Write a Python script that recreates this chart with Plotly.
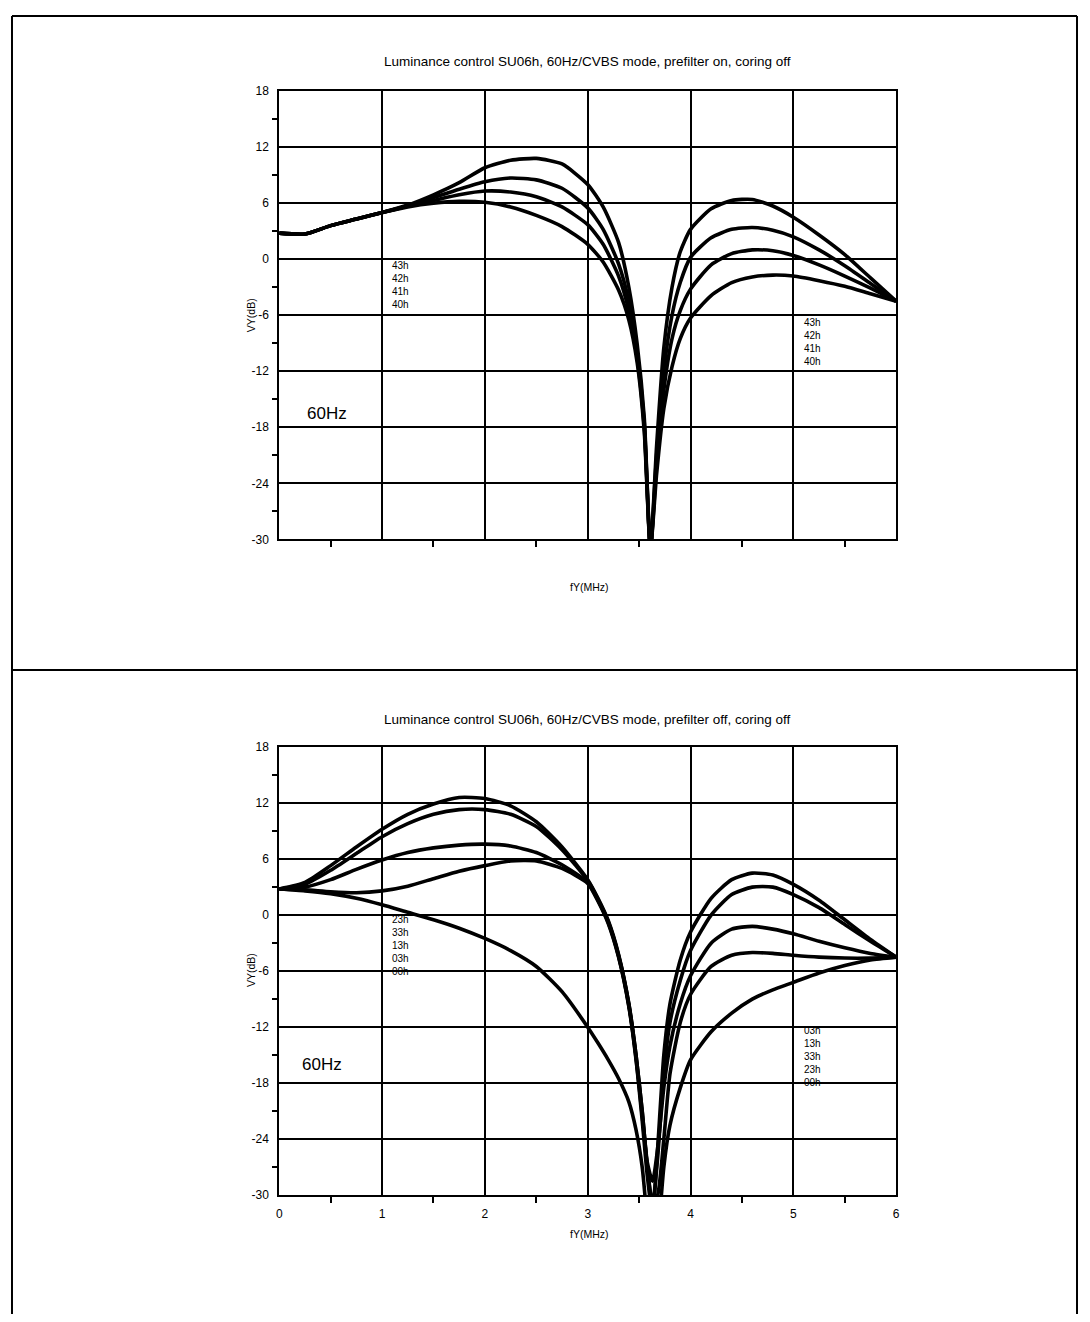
import plotly.graph_objects as go

# ---------------- data ----------------
TITLE_TOP = "Luminance control SU06h, 60Hz/CVBS mode, prefilter on, coring off"
TITLE_BOT = "Luminance control SU06h, 60Hz/CVBS mode, prefilter off, coring off"

Y_TICKS = [18, 12, 6, 0, -6, -12, -18, -24, -30]
Y_TICK_TEXT = ["18", "12", "6", "0", "-6", "-12", "-18", "-24", "-30"]
Y_MINOR = [15, 9, 3, -3, -9, -15, -21, -27]
X_TICKS = [0, 1, 2, 3, 4, 5, 6]
X_TICK_TEXT = ["0", "1", "2", "3", "4", "5", "6"]
X_MINOR = [0.5, 1.5, 2.5, 3.5, 4.5, 5.5]

# top chart: prefilter on
X_TOP = [0, 0.25, 0.5, 0.75, 1.0, 1.25, 1.5, 1.75, 2.0, 2.25, 2.5, 2.75, 3.0,
         3.15, 3.3, 3.4, 3.48, 3.55, 3.61, 3.67, 3.74, 3.82, 3.9, 4.0, 4.2,
         4.4, 4.6, 4.8, 5.0, 5.25, 5.5, 5.75, 6.0]
Y_43H = [2.8, 2.7, 3.6, 4.3, 5.0, 5.8, 6.9, 8.2, 9.8, 10.6, 10.8, 10.2, 8.0,
         5.6, 1.8, -3, -9, -17, -31, -20, -9.5, -3, 0.8, 3.2, 5.4,
         6.3, 6.4, 5.7, 4.5, 2.6, 0.5, -2.0, -4.5]
Y_42H = [2.8, 2.7, 3.6, 4.3, 5.0, 5.7, 6.6, 7.5, 8.3, 8.7, 8.5, 7.6, 5.5,
         3.2, -0.5, -4.5, -10, -17.5, -31, -21, -12, -6, -2.5, 0.2, 2.3,
         3.2, 3.4, 3.1, 2.4, 1.0, -0.7, -2.6, -4.5]
Y_41H = [2.8, 2.7, 3.6, 4.3, 5.0, 5.7, 6.3, 6.9, 7.3, 7.2, 6.7, 5.6, 3.7,
         1.6, -1.8, -5.5, -10.5, -18, -31, -22, -14, -8.5, -5.5, -3.2, -0.6,
         0.6, 1.0, 0.9, 0.4, -0.6, -1.8, -3.1, -4.5]
Y_40H = [2.8, 2.7, 3.6, 4.3, 5.0, 5.6, 6.0, 6.2, 6.1, 5.6, 4.7, 3.5, 1.6,
         -0.3, -3.3, -6.5, -11, -18.5, -31, -23, -16, -11.5, -8.5, -6.3, -3.9,
         -2.5, -1.9, -1.7, -1.8, -2.3, -2.9, -3.7, -4.5]

# bottom chart: prefilter off
X_BOT = [0, 0.25, 0.5, 0.75, 1.0, 1.25, 1.5, 1.75, 2.0, 2.25, 2.5, 2.75, 3.0,
         3.1, 3.2, 3.3, 3.4, 3.47, 3.53, 3.58, 3.63, 3.68, 3.74, 3.8, 3.9,
         4.0, 4.2, 4.4, 4.6, 4.8, 5.0, 5.25, 5.5, 5.75, 6.0]
Y_23H = [2.8, 3.5, 5.3, 7.3, 9.2, 10.8, 11.9, 12.6, 12.5, 11.7, 10.0, 7.3, 3.8,
         1.8, -0.6, -4.2, -9.5, -15, -21, -27, -31, -30, -24, -17, -11.5,
         -8.5, -5.5, -4.3, -4.0, -4.1, -4.3, -4.5, -4.6, -4.6, -4.5]
Y_33H = [2.8, 3.3, 4.8, 6.6, 8.4, 9.8, 10.8, 11.3, 11.3, 10.8, 9.5, 7.0, 3.7,
         1.7, -0.7, -4.3, -9.5, -15, -21, -26.5, -28.5, -25, -18.5, -14, -9.5,
         -6.5, -3.0, -1.5, -1.2, -1.5, -2.0, -2.8, -3.5, -4.1, -4.5]
Y_13H = [2.8, 3.0, 3.8, 4.9, 5.9, 6.7, 7.2, 7.5, 7.6, 7.4, 6.7, 5.4, 3.5,
         1.6, -0.8, -4.4, -9.7, -15.3, -21.5, -27, -31, -26, -17, -11.5, -7.0,
         -3.8, 0.0, 2.2, 3.0, 3.0, 2.2, 0.8, -1.0, -2.8, -4.5]
Y_03H = [2.8, 2.7, 2.5, 2.4, 2.6, 3.1, 3.9, 4.7, 5.3, 5.8, 5.8, 5.0, 3.4,
         1.5, -0.9, -4.5, -9.8, -15.5, -22, -28, -32, -25, -15, -9.5, -4.8,
         -1.8, 1.8, 3.8, 4.5, 4.3, 3.3, 1.6, -0.5, -2.6, -4.5]
Y_00H = [2.8, 2.6, 2.3, 1.8, 1.1, 0.3, -0.5, -1.4, -2.5, -3.8, -5.5, -8.2, -12,
         -13.7, -15.5, -17.5, -20, -23, -27, -33, -40, -35, -27, -22.5, -18.5,
         -15.5, -12.5, -10.5, -9, -8, -7.2, -6.2, -5.4, -4.8, -4.5]

TOP_SERIES = [("43h", Y_43H), ("42h", Y_42H), ("41h", Y_41H), ("40h", Y_40H)]
BOT_SERIES = [("23h", Y_23H), ("33h", Y_33H), ("13h", Y_13H), ("03h", Y_03H), ("00h", Y_00H)]

TOP_LABELS_LEFT = ["43h", "42h", "41h", "40h"]
TOP_LABELS_RIGHT = ["43h", "42h", "41h", "40h"]
BOT_LABELS_LEFT = ["23h", "33h", "13h", "03h", "00h"]
BOT_LABELS_RIGHT = ["03h", "13h", "33h", "23h", "00h"]

# ---------------- figure ----------------
OFF = 8                      # page margin of the html body
W, H = 1090 - 2 * OFF, 1322 - 2 * OFF
FONT = "Liberation Sans, Arial, Helvetica, sans-serif"


def px(x):
    return (x - OFF) / W


def py(y):
    return 1 - (y - OFF) / H


fig = go.Figure()
for name, ys in TOP_SERIES:
    fig.add_trace(go.Scatter(x=X_TOP, y=ys, mode="lines", name=name,
                             line=dict(color="black", width=3.6, shape="spline", smoothing=0.6),
                             xaxis="x", yaxis="y", showlegend=False))
for name, ys in BOT_SERIES:
    fig.add_trace(go.Scatter(x=X_BOT, y=ys, mode="lines", name=name,
                             line=dict(color="black", width=3.6, shape="spline", smoothing=0.6),
                             xaxis="x2", yaxis="y2", showlegend=False))

axis_common = dict(
    showline=True, mirror=True, linecolor="black", linewidth=2,
    showgrid=True, gridcolor="black", gridwidth=1.8, zeroline=False,
    ticks="", tickfont=dict(family=FONT, size=12, color="black"),
)
x_minor = dict(ticks="outside", tickvals=X_MINOR, ticklen=6, tickwidth=1.6,
               tickcolor="black", showgrid=False)
y_minor = dict(ticks="outside", tickvals=Y_MINOR, ticklen=5, tickwidth=1.6,
               tickcolor="black", showgrid=False)

x_dom = [px(278), px(899)]
fig.update_layout(
    width=W, height=H, margin=dict(l=0, r=0, t=0, b=0),
    paper_bgcolor="white", plot_bgcolor="white",
    font=dict(family=FONT, color="black"),
    xaxis=dict(**axis_common, range=[0, 6], domain=x_dom, anchor="y",
               tickvals=X_TICKS, showticklabels=False, minor=x_minor),
    yaxis=dict(**axis_common, range=[-30, 18], domain=[py(538), py(85)], anchor="x",
               tickvals=Y_TICKS, ticktext=Y_TICK_TEXT, ticklabelstandoff=6, minor=y_minor),
    xaxis2=dict(**axis_common, range=[0, 6], domain=x_dom, anchor="y2",
                tickvals=X_TICKS, ticktext=X_TICK_TEXT, ticklabelstandoff=6, minor=x_minor),
    yaxis2=dict(**axis_common, range=[-30, 18], domain=[py(1201), py(748)], anchor="x2",
                tickvals=Y_TICKS, ticktext=Y_TICK_TEXT, ticklabelstandoff=6, minor=y_minor),
)

ann = []


def paper_text(text, x, y, size, angle=0):
    ann.append(dict(text=text, x=px(x), y=py(y), xref="paper", yref="paper",
                    xanchor="center", yanchor="middle", showarrow=False,
                    textangle=angle, font=dict(size=size, family=FONT)))


paper_text(TITLE_TOP, 588, 55, 13.5)
paper_text(TITLE_BOT, 588, 720, 13.5)
paper_text("VY(dB)", 249, 311, 10.5, -90)
paper_text("VY(dB)", 249, 973, 10.5, -90)
paper_text("fY(MHz)", 590, 586, 10.5)
paper_text("fY(MHz)", 590, 1240, 10.5)

ann.append(dict(text="60Hz", x=0.25, y=-16.5, xref="x", yref="y", xanchor="left",
                yanchor="middle", showarrow=False, font=dict(size=17, family=FONT)))
ann.append(dict(text="60Hz", x=0.2, y=-16, xref="x2", yref="y2", xanchor="left",
                yanchor="middle", showarrow=False, font=dict(size=17, family=FONT)))


def stack(labels, x, yc, xr, yr):
    # one tightly packed multi-line block, as in the original
    ann.append(dict(text="<br>".join(labels), x=x, y=yc, xref=xr, yref=yr,
                    xanchor="left", yanchor="middle", align="left", showarrow=False,
                    font=dict(size=10, family=FONT)))


stack(TOP_LABELS_LEFT, 1.08, -2.75, "x", "y")
stack(TOP_LABELS_RIGHT, 5.08, -8.9, "x", "y")
stack(BOT_LABELS_LEFT, 1.08, -3.3, "x2", "y2")
stack(BOT_LABELS_RIGHT, 5.08, -15.1, "x2", "y2")
fig.update_layout(annotations=ann)

# frame and divider
shapes = []
L, R, T, B = 9, 1081, 9, 1322
for (x0, y0, x1, y1) in [(L, T, R, T), (L, T, L, B), (R, T, R, B), (L, 670, R, 670)]:
    shapes.append(dict(type="line", xref="paper", yref="paper", x0=px(x0), y0=py(y0),
                       x1=px(x1), y1=py(y1), line=dict(color="black", width=2)))
fig.update_layout(shapes=shapes)

fig.write_html("out.html")
